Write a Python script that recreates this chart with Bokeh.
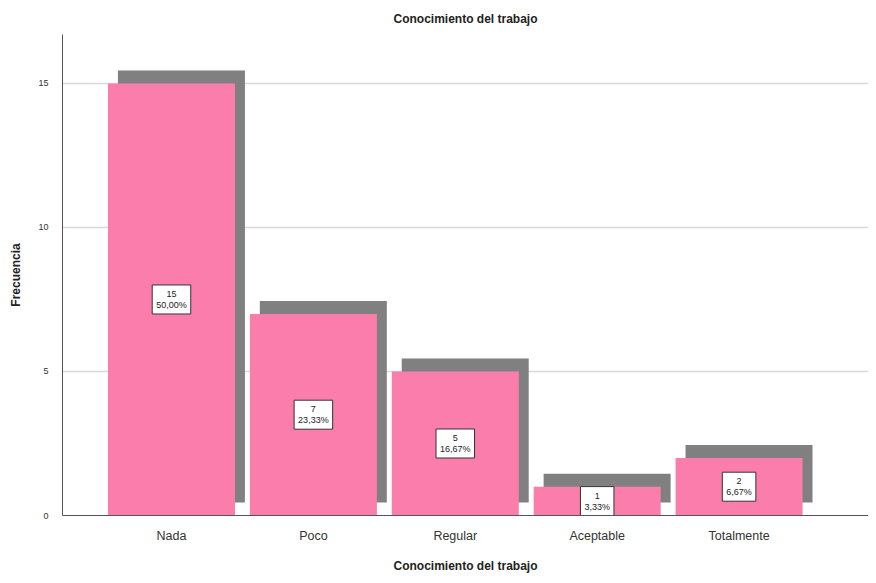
from bokeh.plotting import figure
from bokeh.models import Range1d, FixedTicker, ColumnDataSource
from bokeh.core.properties import value
from bokeh.embed import file_html
from bokeh.resources import INLINE

categories = ["Nada", "Poco", "Regular", "Aceptable", "Totalmente"]
counts = [15, 7, 5, 1, 2]
percents = ["50,00%", "23,33%", "16,67%", "3,33%", "6,67%"]
y_ticks = [0, 5, 10, 15]

FONT = "Liberation Sans"
PINK = "#FB7DAB"
GRAY = "#808080"
BAR_W = 0.895
SHX, SHY = 0.07, 0.45

xs = list(range(len(categories)))
src = ColumnDataSource(dict(
    x=xs,
    left=[x - BAR_W / 2 for x in xs],
    right=[x + BAR_W / 2 for x in xs],
    top=counts,
    sleft=[x - BAR_W / 2 + SHX for x in xs],
    sright=[x + BAR_W / 2 + SHX for x in xs],
    stop=[c + SHY for c in counts],
    mid=[c / 2 for c in counts],
    lab=[f"{c}\n{p}" for c, p in zip(counts, percents)],
))

p = figure(width=868, height=575, output_backend="svg", toolbar_location=None,
           x_range=Range1d(-0.768, 4.912), y_range=Range1d(0, 16.7),
           min_border_left=62, min_border_right=0, min_border_bottom=40, min_border_top=10)
p.outline_line_color = None
p.background_fill_color = "white"

p.title.text = "Conocimiento del trabajo"
p.title.align = "center"
p.title.text_font = FONT
p.title.text_font_size = "12px"
p.title.text_font_style = "bold"
p.title.text_color = "#222222"
p.title.standoff = 18

p.quad(left="sleft", right="sright", bottom=SHY, top="stop", source=src,
       fill_color=GRAY, line_color=None)
p.quad(left="left", right="right", bottom=0, top="top", source=src,
       fill_color=PINK, line_color=None)

p.text(x="x", y="mid", text="lab", source=src, text_align="center", text_baseline="middle",
       text_font=value(FONT), text_font_size="9px", text_color="#222222",
       text_line_height=1.1,
       background_fill_color="white", border_line_color="#333333", border_line_width=1,
       padding=4)

p.xaxis.ticker = FixedTicker(ticks=xs)
p.xaxis.major_label_overrides = {i: c for i, c in enumerate(categories)}
p.yaxis.ticker = FixedTicker(ticks=y_ticks)

p.xgrid.visible = False
p.ygrid.ticker = FixedTicker(ticks=[5, 10, 15])
p.ygrid.grid_line_color = "#d9d9d9"
p.ygrid.grid_line_width = 1.5

for ax in (p.xaxis, p.yaxis):
    ax.axis_line_color = "#555555"
    ax.major_tick_line_color = None
    ax.minor_tick_line_color = None
    ax.major_label_text_font = FONT
    ax.major_label_text_color = "#333333"
    ax.axis_label_text_font = FONT
    ax.axis_label_text_font_style = "bold"
    ax.axis_label_text_font_size = "12px"
    ax.axis_label_text_color = "#222222"

p.xaxis.major_label_text_font_size = "12.5px"
p.xaxis.major_label_standoff = 7
p.yaxis.major_label_text_font_size = "9px"
p.yaxis.major_label_standoff = 8
p.xaxis.axis_label = "Conocimiento del trabajo"
p.yaxis.axis_label = "Frecuencia"
p.xaxis.axis_label_standoff = 13
p.yaxis.axis_label_standoff = 12

open("out.html", "w").write(file_html(p, INLINE))
